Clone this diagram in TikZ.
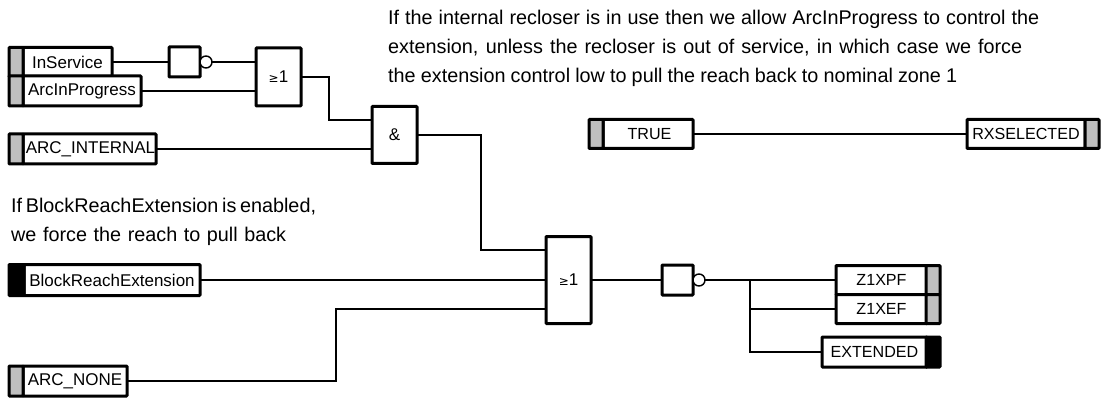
\documentclass[tikz,border=0pt]{standalone}
\usepackage{fontspec}
\setmainfont{Liberation Sans}
\newfontfamily\symfont{DejaVu Sans}
\newcommand{\fitline}[2]{\makebox[#1pt][s]{#2}}
\tikzset{
  x=1pt,y=-1pt,
  wire/.style={line width=1.5pt,line join=miter},
  boxbase/.style={draw=black,line width=3pt,rounded corners=0.8pt,anchor=north west,inner sep=0pt,outer sep=0pt,font=\fontsize{17}{19}\selectfont},
  labelbox/.style={boxbase,fill=white},
  capsbox/.style={labelbox,font=\fontsize{16.1}{19}\selectfont},
  graytab/.style={boxbase,fill=black!25,minimum width=14pt},
  blacktab/.style={boxbase,fill=black,minimum width=14pt},
  gate/.style={boxbase,fill=white,minimum width=45pt},
  notbox/.style={boxbase,fill=white,minimum width=31pt,minimum height=30pt},
  bubble/.style={circle,draw=black,line width=1.4pt,fill=white,minimum size=12pt,inner sep=0pt,outer sep=0pt},
  note/.style={anchor=north west,inner sep=0pt,align=left,font=\fontsize{19.8}{29}\selectfont},
}
\begin{document}
\begin{tikzpicture}
\useasboundingbox (0,0) rectangle (1105,398);
% input / output boxes
\node[labelbox,minimum width=89pt,minimum height=29pt] (inservice) at (23,47.5) {InService};
\node[graytab,minimum height=29pt] (inservicetab) at (9,47.5) {};
\node[labelbox,minimum width=118pt,minimum height=30pt] (arcprog) at (23,76) {ArcInProgress};
\node[graytab,minimum height=30pt] (arcprogtab) at (9,76) {};
\node[labelbox,minimum width=133pt,minimum height=30pt] (arcint) at (23,134) {\hspace{2pt}ARC\_INTERNAL};
\node[graytab,minimum height=30pt] (arcinttab) at (9,134) {};
\node[labelbox,minimum width=176pt,minimum height=31pt] (block) at (24,264.5) {BlockReachExtension};
\node[blacktab,minimum width=15pt,minimum height=31pt] (blocktab) at (9,264.5) {};
\node[labelbox,minimum width=104pt,minimum height=30pt] (arcnone) at (23,366) {ARC\_NONE};
\node[graytab,minimum height=30pt] (arcnonetab) at (9,366) {};
\node[capsbox,minimum width=90pt,minimum height=29pt] (true) at (603,119.5) {\hspace{3pt}TRUE};
\node[graytab,minimum height=29pt] (truetab) at (589,119.5) {};
\node[capsbox,minimum width=118pt,minimum height=29pt] (rxsel) at (967,119.5) {RXSELECTED};
\node[graytab,minimum height=29pt] (rxseltab) at (1085,119.5) {};
\node[capsbox,minimum width=91pt,minimum height=29pt] (zpf) at (836,265.5) {Z1XPF};
\node[graytab,minimum height=29pt] (zpftab) at (926,265.5) {};
\node[capsbox,minimum width=91pt,minimum height=29pt] (zef) at (836,294.5) {Z1XEF};
\node[graytab,minimum height=29pt] (zeftab) at (926,294.5) {};
\node[capsbox,minimum width=105pt,minimum height=30pt] (ext) at (822,337) {EXTENDED};
\node[blacktab,minimum height=30pt] (exttab) at (926,337) {};
% gates
\node[notbox] (noti) at (169,47) {};
\node[bubble,anchor=west] (notib) at (noti.east) {};
\node[gate,minimum height=58pt] (ora) at (256,48) {{\symfont\fontsize{12}{14}\selectfont ≥}1};
\node[gate,minimum height=57pt] (anda) at (372,106.5) {\&};
\node[gate,minimum height=87pt] (orb) at (546,236.5) {{\symfont\fontsize{12}{14}\selectfont ≥}1};
\node[notbox] (noto) at (662,265) {};
\node[bubble,anchor=west] (notob) at (noto.east) {};
% pins and bends
\coordinate (oraa) at (ora.west |- inservice.east);
\coordinate (orab) at (ora.west |- arcprog.east);
\coordinate (andaa) at (372,120);
\coordinate (andab) at (anda.west |- arcint.east);
\coordinate (orba) at (546,250);
\coordinate (orbb) at (orb.west |- block.east);
\coordinate (orbc) at (546,309);
\coordinate (jorand) at (329,77);
\coordinate (jandor) at (481,135);
\coordinate (jnone) at (336,381);
\coordinate (jout) at (750,280);
% wires
\draw[wire] (inservice.east) -- (noti.west);
\draw[wire] (notib.east) -- (oraa);
\draw[wire] (arcprog.east) -- (orab);
\draw[wire] (arcint.east) -- (andab);
\draw[wire] (ora.east) -- (jorand) |- (andaa);
\draw[wire] (anda.east) -- (jandor) |- (orba);
\draw[wire] (block.east) -- (orbb);
\draw[wire] (arcnone.east) -- (jnone) |- (orbc);
\draw[wire] (orb.east) -- (noto.west);
\draw[wire] (notob.east) -- (zpf.west);
\draw[wire] (jout) |- (zef.west);
\draw[wire] (jout) |- (ext.west);
\draw[wire] (true.east) -- (rxsel.west);
% notes
\node[note] (notetop) at (388,10) {\fitline{651}{If the internal recloser is in use then we allow ArcInProgress to control the}\\\fitline{634}{extension, unless the recloser is out of service, in which case we force}\\\fitline{569}{the extension control low to pull the reach back to nominal zone 1}};
\node[note] (noteleft) at (11,198) {\fitline{304}{If BlockReachExtension is enabled,}\\\fitline{275}{we force the reach to pull back}};
\end{tikzpicture}
\end{document}
